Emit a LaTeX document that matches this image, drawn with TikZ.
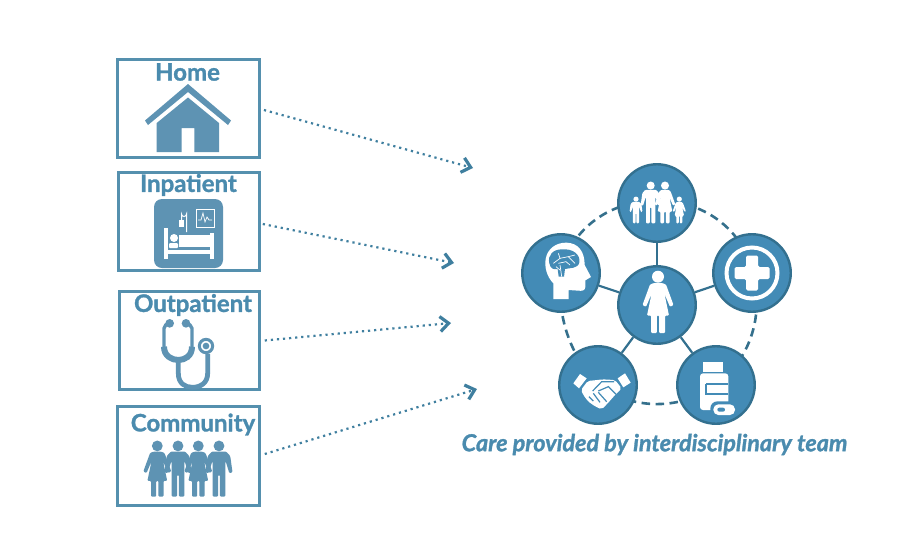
\documentclass[tikz,border=0pt]{standalone}
\usepackage{fontspec}
\setmainfont[BoldFeatures={FakeBold=1.3},BoldItalicFeatures={FakeBold=1.3}]{Lato}
\usetikzlibrary{arrows.meta,backgrounds}
\definecolor{boxblue}{HTML}{5590AE}
\definecolor{labelblue}{HTML}{4A8BAE}
\definecolor{iconblue}{HTML}{5E93B3}
\definecolor{discfill}{HTML}{438BB6}
\definecolor{discline}{HTML}{33708F}
\definecolor{ringcol}{HTML}{35708C}
\definecolor{flowcol}{HTML}{3F7F9F}
\tikzset{
  setting/.style={draw=boxblue,line width=3pt,fill=white,minimum width=#1,inner sep=0pt,minimum height=98pt},
  settinglabel/.style={text=labelblue,font=\fontsize{24}{26}\selectfont\bfseries,inner sep=0pt},
  caption/.style={text=labelblue,font=\fontsize{23.4}{26}\selectfont\bfseries\itshape,inner sep=0pt},
  disc/.style={circle,draw=discline,line width=2.4pt,fill=discfill,minimum size=77.5pt,inner sep=0pt},
  flow/.style={draw=flowcol,line width=2.2pt,dash pattern=on 2.2pt off 3.9pt,
    -{Straight Barb[length=8.5pt,width=15pt,line width=3.2pt]}},
  spoke/.style={draw=discline,line width=2.2pt},
  ringlink/.style={draw=ringcol,line width=2.6pt,dash pattern=on 8.5pt off 5.5pt,bend left=#1,looseness=0.94},
  zoomed/.style={x=0.33333pt,y=-0.33333pt}
}
\newcommand{\womanicon}[4]{%
  \begin{scope}[shift={(#1,#2)},scale=#3]
    \fill[#4] (0,-25.3) circle (6);
    \fill[#4,rounded corners=1pt] (-4,-19) -- (4,-19) -- (8,-17.5) -- (15.5,3) -- (12,4.8) -- (6.5,-8)
      -- (11,13.5) -- (7,13.5) -- (7,31) -- (1.2,31) -- (1.2,13.5) -- (-1.2,13.5) -- (-1.2,31)
      -- (-7,31) -- (-7,13.5) -- (-11,13.5) -- (-6.5,-8) -- (-12,4.8) -- (-15.5,3) -- (-8,-17.5) -- cycle;
  \end{scope}}
\newcommand{\manicon}[4]{%
  \begin{scope}[shift={(#1,#2)},scale=#3]
    \fill[#4] (0,-25.3) circle (6);
    \fill[#4,rounded corners=1pt] (-8,-19) -- (8,-19) -- (12.5,-14) -- (15,4) -- (11.5,5) -- (7.5,-8)
      -- (7,-8) -- (7,31) -- (1.1,31) -- (1.1,7) -- (-1.1,7) -- (-1.1,31) -- (-7,31) -- (-7,-8) -- (-7.5,-8)
      -- (-11.5,5) -- (-15,4) -- (-12.5,-14) -- cycle;
  \end{scope}}
\begin{document}
\begin{tikzpicture}[x=1pt,y=-1pt]
\useasboundingbox (0,0) rectangle (910,547);

% setting boxes
\node[setting=141.5pt] (home) at (188.7,108) {};
\node[setting=140.5pt] (inpatient) at (189,221.5) {};
\node[setting=139.5pt] (outpatient) at (189.5,340.5) {};
\node[setting=141.5pt,minimum height=99pt] (community) at (188.5,456) {};
\node[settinglabel] (homelabel) at (187.5,72) {Home};
\node[settinglabel] (inpatientlabel) at (188.5,185) {Inpatient};
\node[settinglabel] (outpatientlabel) at (193,305) {Outpatient};
\node[settinglabel] (communitylabel) at (193,424.5) {Community};

% flow arrows
\coordinate (homeend) at (473,168);
\coordinate (inpatientend) at (454,263);
\coordinate (outpatientend) at (451,323);
\coordinate (communityend) at (477,389);
\draw[flow] ([shift={(3,2)}]home.east) -- (homeend);
\draw[flow] ([shift={(2,2.5)}]inpatient.east) -- (inpatientend);
\draw[flow] ([shift={(4,0)}]outpatient.east) -- (outpatientend);
\draw[flow] ([shift={(4,-2)}]community.east) -- (communityend);

% home icon
\fill[iconblue] (188,84) -- (231,120.5) -- (228,125) -- (188,92) -- (148,125) -- (145,120.5) -- cycle;
\fill[iconblue] (188,97.5) -- (219,123) -- (219,152) -- (194.3,152) -- (194.3,128) -- (181.7,128)
  -- (181.7,152) -- (156.7,152) -- (156.7,123) -- cycle;

% inpatient icon
\fill[iconblue,rounded corners=8pt] (154,199) rectangle (223,268);
\fill[white] (164,228) rectangle (168,259);
\fill[white] (210,233) rectangle (214,259);
\fill[white] (168,250) rectangle (210,254);
\fill[white] (179,235) rectangle (210,247);
\fill[white] (174,238) circle (4);
\fill[white,rounded corners=1pt] (169,243) rectangle (178,248);
\draw[white,line width=1pt] (181.5,220) -- (181.5,214) arc[start angle=180,end angle=0,radius=2.5] -- (186.5,232);
\fill[white] (179,220) rectangle (184,227);
\draw[white,line width=1pt] (196,209) rectangle (214,227);
\draw[white,line width=0.7pt] (198,220) -- (201,220) -- (203,213) -- (205,222) -- (207,217) -- (209,220) -- (212,220);

% stethoscope icon
\begin{scope}[shift={(100,280)},zoomed]
  \draw[iconblue,line width=3.4pt,line cap=round] (209,130) -- (197,135) -- (192,145) -- (192,205);
  \draw[iconblue,line width=3.4pt,line cap=round] (258,130) -- (270,135) -- (276,145) -- (276,205);
  \draw[iconblue,line width=6pt] (192,200) .. controls (192,228) and (215,240) .. (235,240)
    .. controls (255,240) and (276,228) .. (276,200);
  \fill[iconblue] (209,130) circle (13);
  \fill[iconblue] (258,130) circle (13);
  \draw[iconblue,line width=4.8pt] (235,240) -- (235,280) .. controls (235,310) and (255,322) .. (277,322)
    .. controls (300,322) and (323,310) .. (323,280) -- (323,222);
  \draw[iconblue,line width=3pt] (318,198) circle (20);
  \fill[iconblue] (318,198) circle (10);
\end{scope}

% community icon
\womanicon{157.3}{468.7}{0.9}{iconblue}
\manicon{178}{468.7}{0.9}{iconblue}
\womanicon{198.3}{468.7}{0.9}{iconblue}
\manicon{219}{468.7}{0.9}{iconblue}

% team
\node[disc] (hub) at (657,305) {};
\node[disc] (family) at (657,203) {};
\node[disc] (clinic) at (752,273) {};
\node[disc] (pharmacy) at (716,385) {};
\node[disc] (social) at (598,385) {};
\node[disc] (mind) at (561,273) {};
\begin{scope}[on background layer]
  \draw[ringlink=44] (family.center) to (clinic.center);
  \draw[ringlink=35] (clinic.center) to (pharmacy.center);
  \draw[ringlink=36] (pharmacy.center) to (social.center);
  \draw[ringlink=24] (social.center) to (mind.center);
  \draw[ringlink=44] (mind.center) to (family.center);
\end{scope}
\draw[spoke] (hub) -- (family);
\draw[spoke] (hub) -- (clinic);
\draw[spoke] (hub) -- (pharmacy);
\draw[spoke] (hub) -- (social);
\draw[spoke] (hub) -- (mind);

% hub woman
\womanicon{658}{302}{1}{white}

% family
\manicon{650.7}{202.5}{0.67}{white}
\womanicon{665}{202.5}{0.67}{white}
\manicon{636}{210}{0.43}{white}
\womanicon{679.3}{210}{0.43}{white}

% cross
\draw[white,line width=4pt] (752,273) circle (25.5);
\fill[white,rounded corners=1.5pt] (746,255.5) -- (758,255.5) -- (758,267) -- (769.5,267) -- (769.5,279)
  -- (758,279) -- (758,290.5) -- (746,290.5) -- (746,279) -- (734.5,279) -- (734.5,267) -- (746,267) -- cycle;

\begin{scope}[shift={(510,155)},zoomed]
  % head with brain
  \fill[white] (130,432) -- (130,385) .. controls (110,365) and (103,335) .. (107,312)
    .. controls (112,280) and (140,262) .. (170,263)
    .. controls (205,264) and (224,290) .. (224,330)
    -- (243,366) -- (226,376) -- (226,396) .. controls (225,408) and (215,408) .. (205,407)
    -- (176,405) -- (176,432) -- cycle;
  \fill[discfill] (118,325) .. controls (112,300) and (130,283) .. (155,283)
    .. controls (190,280) and (212,300) .. (208,322)
    .. controls (204,342) and (180,338) .. (165,342)
    -- (162,365) -- (146,365) -- (143,342)
    .. controls (130,345) and (121,340) .. (118,325) -- cycle;
  \begin{scope}[draw=white,line width=0.7pt]
    \draw (130,325) -- (150,310) -- (175,305) -- (195,300);
    \draw (150,310) -- (145,295);
    \draw (175,305) -- (195,325);
    \draw (145,325) -- (168,320) -- (180,330);
    \draw (150,330) -- (155,365);
    \draw (138,335) -- (150,345);
  \end{scope}
  % handshake
  \fill[white] (190,685) -- (210,657) -- (230,670) -- (207,700) -- cycle;
  \fill[white] (323,670) -- (345,655) -- (362,683) -- (340,697) -- cycle;
  \fill[white,rounded corners=2pt] (213,705) -- (233,678) -- (263,675) -- (277,673) -- (315,675) -- (335,700)
    -- (315,720) -- (293,745) -- (275,763) -- (257,755) -- (235,740) -- (220,720) -- cycle;
  \begin{scope}[draw=discfill,line width=1.2pt]
    \draw (248,708) -- (275,680) -- (312,680);
    \draw (265,708) -- (295,695) -- (318,718);
    \draw (237,725) -- (250,738);
    \draw (250,715) -- (270,742);
    \draw (265,712) -- (290,740);
  \end{scope}
  % pill bottle
  \fill[white] (580,622) rectangle (640,650);
  \fill[white,rounded corners=3pt] (570,655) rectangle (655,765);
  \draw[discfill,line width=1.7pt] (588,687) -- (655,687) (655,716) -- (588,716) -- (588,687);
  \fill[discfill,rounded corners=7pt] (601,739) rectangle (684,789);
  \fill[white,rounded corners=5pt] (610,748) rectangle (675,780);
  \fill[discfill,rounded corners=2pt] (622,758) rectangle (645,770);
\end{scope}

% caption
\node[caption] (teamcaption) at (654.5,444.5) {Care provided by interdisciplinary team};
\end{tikzpicture}
\end{document}
